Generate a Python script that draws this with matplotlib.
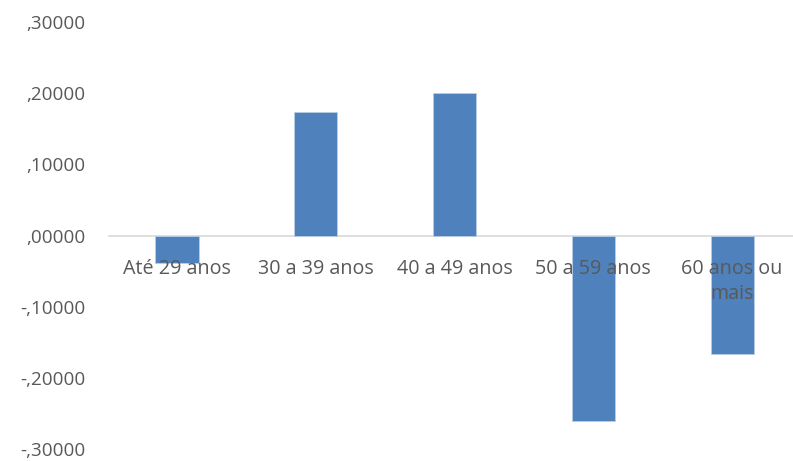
import matplotlib.pyplot as plt
import numpy as np
from matplotlib.ticker import FuncFormatter

# Faixas etárias e valores
categorias = ["Até 29 anos", "30 a 39 anos", "40 a 49 anos", "50 a 59 anos", "60 anos ou\nmais"]
valores = [-0.038, 0.173, 0.200, -0.261, -0.167]
yticks = [-0.3, -0.2, -0.1, 0.0, 0.1, 0.2, 0.3]

plt.rcParams['font.family'] = ['Open Sans', 'DejaVu Sans']
cinza = '#595959'
tam = 14.2

fig = plt.figure(figsize=(7.93, 4.61), dpi=100)
ax = fig.add_axes([0.1357, 0.026, 0.875, 0.926])

x = np.arange(len(categorias))
ax.bar(x, valores, width=0.31, color='#4F81BD', edgecolor='#B9CDE5', linewidth=0.6, zorder=2)

ax.set_xlim(-0.5, len(categorias) - 0.5)
ax.set_ylim(-0.3, 0.3)
ax.set_yticks(yticks)
ax.yaxis.set_major_formatter(FuncFormatter(lambda v, p: f"{v:.5f}".replace("0.", ",", 1)))

# Linha do zero
ax.axhline(0, color='#D9D9D9', linewidth=1.2, zorder=1)

for s in ax.spines.values():
    s.set_visible(False)

ax.tick_params(axis='y', length=0, pad=16, labelsize=13.6, labelcolor=cinza)
ax.set_xticks([])

# Rótulos das categorias logo abaixo do eixo zero
for xi, nome in zip(x, categorias):
    ax.text(xi, -0.033, nome, ha='center', va='top', fontsize=tam, color=cinza,
            linespacing=1.35, zorder=3)

fig.savefig('out.png', dpi=100)
